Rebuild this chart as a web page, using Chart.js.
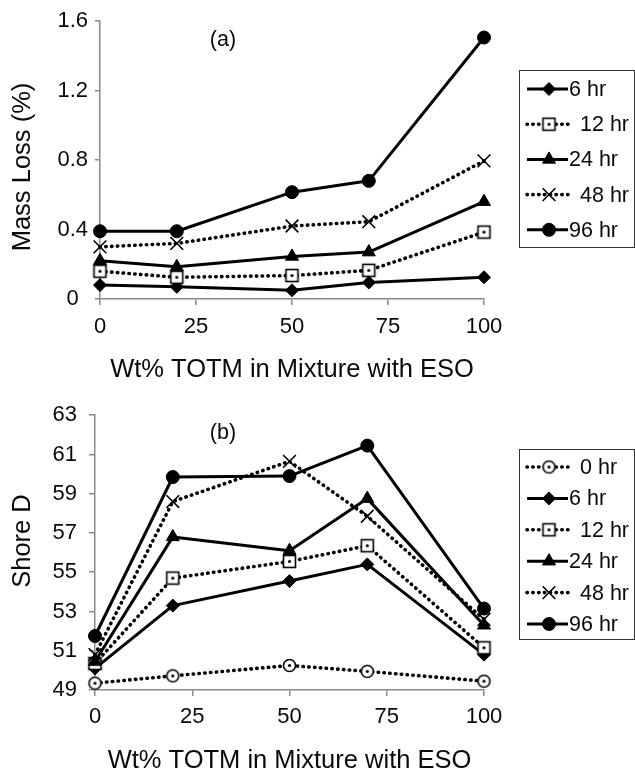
<!DOCTYPE html>
<html><head><meta charset="utf-8">
<script src="https://cdn.jsdelivr.net/npm/chart.js@4.4.1/dist/chart.umd.min.js"></script>
<style>
html,body{margin:0;padding:0;background:#fff;width:635px;height:772px;overflow:hidden}
.panel{position:absolute;left:0;width:635px}
#pa{top:0;height:390px}
#pb{top:390px;height:382px}
canvas{display:block}
</style></head><body>
<div class="panel" id="pa"><canvas id="ca" width="635" height="390"></canvas></div>
<div class="panel" id="pb"><canvas id="cb" width="635" height="382"></canvas></div>
<script>
// ---------- data ----------
const wtTOTM = [0, 20, 50, 70, 100];
const xTickValues = [0, 25, 50, 75, 100];
const massLossTicks = [0, 0.4, 0.8, 1.2, 1.6];
const shoreTicks = [49, 51, 53, 55, 57, 59, 61, 63];

const massLossLabels = ['6 hr', '12 hr', '24 hr', '48 hr', '96 hr'];
const massLoss6hr  = [0.08, 0.07, 0.05, 0.095, 0.125];
const massLoss12hr = [0.16, 0.125, 0.135, 0.165, 0.385];
const massLoss24hr = [0.22, 0.185, 0.245, 0.27, 0.56];
const massLoss48hr = [0.30, 0.32, 0.42, 0.445, 0.795];
const massLoss96hr = [0.39, 0.39, 0.615, 0.68, 1.505];

const shoreLabels = ['0 hr', '6 hr', '12 hr', '24 hr', '48 hr', '96 hr'];
const shore0hr  = [49.35, 49.72, 50.25, 49.95, 49.45];
const shore6hr  = [50.1, 53.3, 54.55, 55.4, 50.8];
const shore12hr = [50.35, 54.7, 55.55, 56.35, 51.15];
const shore24hr = [50.45, 56.8, 56.1, 58.75, 52.3];
const shore48hr = [50.8, 58.6, 60.65, 57.85, 52.6];
const shore96hr = [51.75, 59.85, 59.9, 61.45, 53.15];

// ---------- styles ----------
const FONT = '"Liberation Sans", Arial, Helvetica, sans-serif';
const TXT = '#0a0a0a';
const AXIS = '#8a8a8a';

function markerCanvas(kind) {
  const c = document.createElement('canvas');
  c.width = 17; c.height = 17;
  const g = c.getContext('2d');
  g.fillStyle = '#fff'; g.strokeStyle = '#000'; g.lineWidth = 1.6;
  if (kind === 'square') {
    g.fillRect(2.5, 2.5, 12, 12); g.strokeRect(2.5, 2.5, 12, 12);
  } else {
    g.beginPath(); g.arc(8.5, 8.5, 6, 0, Math.PI * 2); g.fill(); g.stroke();
  }
  g.fillStyle = '#000';
  g.beginPath(); g.arc(8.5, 8.5, 1.6, 0, Math.PI * 2); g.fill();
  return c;
}
const squareImg = markerCanvas('square');
const circleImg = markerCanvas('circle');

const STY = {
  diamond:  {pointStyle: 'rectRot', pointRadius: 6.5, pointBorderWidth: 1, pointBackgroundColor: '#000', dotted: false},
  square:   {pointStyle: squareImg, pointRadius: 7, pointBorderWidth: 0, pointBackgroundColor: '#fff', dotted: true},
  triangle: {pointStyle: 'triangle', pointRadius: 7.5, pointBorderWidth: 1, pointBackgroundColor: '#000', dotted: false},
  cross:    {pointStyle: 'crossRot', pointRadius: 9, pointBorderWidth: 1.6, pointBackgroundColor: '#000', dotted: true},
  circle:   {pointStyle: 'circle', pointRadius: 6.5, pointBorderWidth: 1, pointBackgroundColor: '#000', dotted: false},
  ocircle:  {pointStyle: circleImg, pointRadius: 7, pointBorderWidth: 0, pointBackgroundColor: '#fff', dotted: true}
};

function makeDataset(label, values, styleKey, idx, n) {
  const s = STY[styleKey];
  return {
    label,
    data: wtTOTM.map((x, i) => ({x, y: values[i]})),
    borderColor: '#000',
    borderWidth: s.dotted ? 3.6 : 3,
    borderDash: s.dotted ? [0.4, 5.4] : [],
    borderCapStyle: s.dotted ? 'round' : 'butt',
    borderJoinStyle: 'round',
    pointStyle: s.pointStyle,
    pointRadius: s.pointRadius,
    pointHoverRadius: s.pointRadius,
    pointBorderWidth: s.pointBorderWidth,
    pointBackgroundColor: s.pointBackgroundColor,
    pointBorderColor: '#000',
    dotted: s.dotted,
    fill: false,
    tension: 0,
    clip: false,
    order: n - idx
  };
}

// ---------- plugins ----------
const boxLegend = {
  id: 'boxLegend',
  afterDatasetsDraw(chart, args, o) {
    if (!o || !o.show) return;
    const ctx = chart.ctx;
    ctx.save();
    ctx.strokeStyle = '#333'; ctx.lineWidth = 1;
    ctx.strokeRect(o.x + 0.5, o.y + 0.5, o.w, o.h);
    chart.data.datasets.forEach((ds, i) => {
      const y = o.firstY + i * o.step;
      ctx.save();
      ctx.strokeStyle = ds.borderColor; ctx.lineWidth = ds.borderWidth;
      ctx.lineCap = ds.borderCapStyle; ctx.setLineDash(ds.borderDash);
      ctx.beginPath(); ctx.moveTo(o.lx1, y); ctx.lineTo(o.lx2, y); ctx.stroke();
      ctx.restore();
      ctx.save();
      ctx.fillStyle = ds.pointBackgroundColor; ctx.strokeStyle = ds.pointBorderColor;
      ctx.lineWidth = ds.pointBorderWidth;
      Chart.helpers.drawPoint(ctx, {pointStyle: ds.pointStyle, radius: ds.pointRadius, rotation: 0, borderWidth: ds.pointBorderWidth}, o.mx, y);
      ctx.restore();
      ctx.fillStyle = TXT; ctx.font = '21.5px ' + FONT;
      ctx.textAlign = 'left'; ctx.textBaseline = 'middle';
      ctx.fillText(ds.label, ds.dotted ? o.txDotted : o.tx, y + 1);
    });
    ctx.restore();
  }
};

const panelText = {
  id: 'panelText',
  afterDraw(chart, args, o) {
    if (!o || !o.show) return;
    const ctx = chart.ctx;
    ctx.save();
    ctx.fillStyle = TXT;
    ctx.font = '21.5px ' + FONT;
    ctx.textAlign = 'center'; ctx.textBaseline = 'middle';
    ctx.fillText(o.tag, o.tagX, o.tagY);
    ctx.translate(o.titleX, o.titleY);
    ctx.rotate(-Math.PI / 2);
    ctx.font = '25.5px ' + FONT;
    ctx.fillText(o.title, 0, 0);
    ctx.restore();
  }
};

function makeOptions(cfg) {
  return {
    responsive: false,
    animation: false,
    devicePixelRatio: 1,
    events: [],
    layout: {padding: {left: 0, right: 151, top: cfg.padTop, bottom: 0}},
    plugins: {
      legend: {display: false},
      tooltip: {enabled: false},
      boxLegend: cfg.legend,
      panelText: cfg.text
    },
    scales: {
      x: {
        type: 'linear', min: 0, max: 100,
        afterBuildTicks: s => { s.ticks = xTickValues.map(v => ({value: v})); },
        afterFit: s => { s.height = cfg.xHeight; },
        border: {display: true, color: AXIS, width: 1.5},
        grid: {drawOnChartArea: false, drawTicks: true, tickLength: 6, color: AXIS, lineWidth: 1.5},
        ticks: {color: TXT, font: {family: FONT, size: 22}, padding: cfg.xPad, maxRotation: 0, autoSkip: false},
        title: {display: true, text: 'Wt% TOTM in Mixture with ESO', color: TXT,
                font: {family: FONT, size: 25.5, lineHeight: 1}, padding: {top: 0, bottom: cfg.xTitlePad}}
      },
      y: {
        type: 'linear', min: cfg.yMin, max: cfg.yMax,
        afterBuildTicks: s => { s.ticks = cfg.yTicks.map(v => ({value: v})); },
        afterFit: s => { s.width = cfg.yWidth; },
        border: {display: true, color: AXIS, width: 1.5},
        grid: {drawOnChartArea: false, drawTicks: true, tickLength: cfg.yTickLen, color: AXIS, lineWidth: 1.5},
        ticks: {color: TXT, font: {family: FONT, size: 22}, padding: cfg.yPad, crossAlign: cfg.crossAlign, autoSkip: false}
      }
    }
  };
}

// ---------- chart (a) ----------
const aStyles = ['diamond', 'square', 'triangle', 'cross', 'circle'];
const aValues = [massLoss6hr, massLoss12hr, massLoss24hr, massLoss48hr, massLoss96hr];
new Chart(document.getElementById('ca'), {
  type: 'line',
  data: {datasets: massLossLabels.map((l, i) => makeDataset(l, aValues[i], aStyles[i], i, 5))},
  options: makeOptions({
    padTop: 21, xHeight: 91, yWidth: 100, xPad: 9, xTitlePad: 7.5,
    yMin: 0, yMax: 1.6, yTicks: massLossTicks, yTickLen: 5, yPad: 7, crossAlign: 'center',
    legend: {show: true, x: 519, y: 70, w: 115, h: 177, firstY: 89, step: 35.2,
             lx1: 527, lx2: 568, mx: 549, tx: 569, txDotted: 580},
    text: {show: true, tag: '(a)', tagX: 223, tagY: 40, title: 'Mass Loss (%)', titleX: 22.5, titleY: 167}
  }),
  plugins: [boxLegend, panelText]
});

// ---------- chart (b) ----------
const bStyles = ['ocircle', 'diamond', 'square', 'triangle', 'cross', 'circle'];
const bValues = [shore0hr, shore6hr, shore12hr, shore24hr, shore48hr, shore96hr];
new Chart(document.getElementById('cb'), {
  type: 'line',
  data: {datasets: shoreLabels.map((l, i) => makeDataset(l, bValues[i], bStyles[i], i, 6))},
  options: makeOptions({
    padTop: 23, xHeight: 82, yWidth: 95, xPad: 8, xTitlePad: -1.5,
    yMin: 49, yMax: 63, yTicks: shoreTicks, yTickLen: 6, yPad: 12, crossAlign: 'near',
    legend: {show: true, x: 519, y: 59, w: 115, h: 190, firstY: 77, step: 31.4,
             lx1: 527, lx2: 568, mx: 549, tx: 569, txDotted: 580},
    text: {show: true, tag: '(b)', tagX: 223, tagY: 43, title: 'Shore D', titleX: 22.5, titleY: 151}
  }),
  plugins: [boxLegend, panelText]
});
</script>
</body></html>
